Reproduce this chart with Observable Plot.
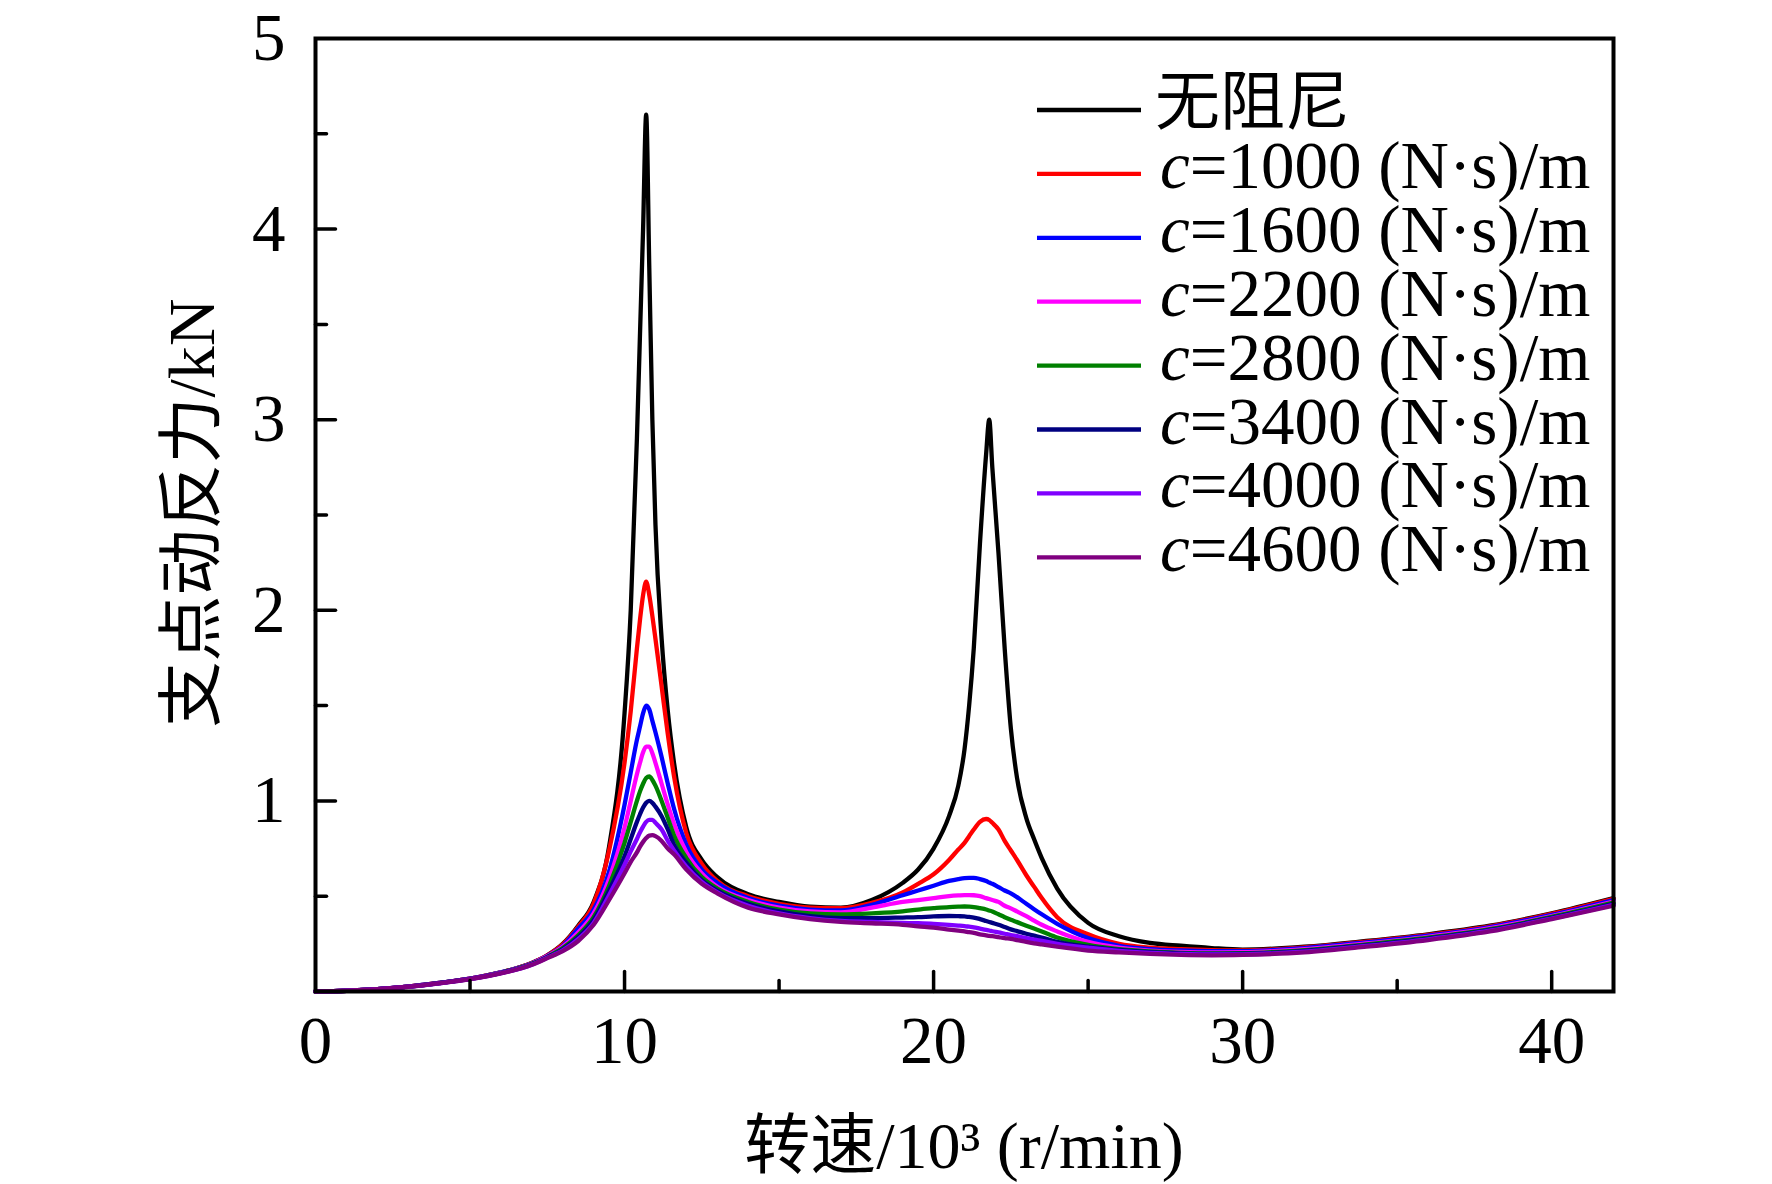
<!DOCTYPE html>
<html><head><meta charset="utf-8">
<script src="https://cdn.jsdelivr.net/npm/d3@7"></script>
<script src="https://cdn.jsdelivr.net/npm/@observablehq/plot@0.6"></script>
<style>body{margin:0;background:#fff}</style>
</head><body><div id="chart"></div>
<script>
// rotational speed, 10^3 r/min
const speed = [0,1,2,3,4,5,6,7,7.5,8, 8.5,9,9.5,10,10.2,10.4,10.5,10.6,10.7,10.8, 10.9,11,11.2,11.4,11.6,12,12.5,13,14,15, 16,17,18,19,19.5,20,20.5,20.8,21,21.15, 21.3,21.5,21.7,21.8,21.9,22.1,22.3,22.5,22.7,23, 23.25,23.5,24,25,26,27,28,29,30,32, 34,36,38,40,42];
// support dynamic reaction force, kN
const undamped = [0,.004,.012,.026,.045,.068,.10,.15,.19,.25, .345,.47,.76,1.46,2.0,2.9,3.45,4.0,4.6,3.8, 3.0,2.45,1.85,1.47,1.2,.86,.69,.60,.51,.47, .445,.44,.48,.57,.64,.75,.92,1.08,1.27,1.5, 1.8,2.35,2.82,3.0,2.75,2.3,1.8,1.38,1.12,.91, .8,.70,.54,.36,.29,.255,.24,.228,.22,.235, .265,.30,.345,.41,.49];
const c1000 = [0,.004,.012,.026,.045,.068,.10,.15,.19,.248, .34,.46,.74,1.2,1.47,1.8,1.95,2.08,2.15,2.08, 1.97,1.85,1.6,1.35,1.13,.83,.67,.58,.50,.46, .44,.437,.465,.52,.565,.615,.69,.745,.78,.815, .85,.89,.905,.9,.885,.85,.79,.74,.69,.61, .55,.49,.39,.30,.25,.23,.222,.217,.215,.232, .262,.297,.342,.407,.486];
const c1600 = [0,.004,.012,.026,.045,.067,.10,.148,.187,.24, .33,.43,.63,.98,1.15,1.32,1.39,1.46,1.50,1.48, 1.42,1.36,1.23,1.09,.96,.77,.64,.57,.49,.45, .43,.425,.455,.505,.53,.555,.58,.59,.595,.596, .596,.59,.58,.572,.565,.548,.53,.515,.495,.46, .432,.405,.355,.28,.24,.222,.215,.212,.212,.228, .258,.293,.338,.402,.48];
const c2200 = [0,.004,.012,.026,.044,.067,.099,.147,.185,.235, .31,.41,.59,.86,1.0,1.14,1.2,1.255,1.285,1.285, 1.25,1.2,1.09,.98,.88,.73,.62,.55,.48,.44, .42,.415,.44,.47,.48,.49,.50,.504,.506,.506, .505,.50,.49,.485,.48,.47,.45,.436,.42,.395, .372,.35,.315,.26,.23,.215,.208,.205,.206,.222, .252,.287,.332,.396,.472];
const c2800 = [0,.004,.012,.025,.044,.066,.098,.145,.182,.228, .295,.39,.555,.78,.89,1.0,1.05,1.09,1.12,1.128, 1.11,1.08,1.0,.91,.82,.70,.60,.54,.47,.43, .41,.405,.41,.42,.43,.437,.443,.445,.446,.445, .443,.437,.43,.425,.42,.405,.39,.376,.364,.345, .33,.315,.283,.245,.222,.21,.203,.20,.201,.217, .247,.282,.327,.391,.466];
const c3400 = [0,.004,.012,.025,.044,.066,.097,.143,.18,.222, .285,.375,.53,.71,.80,.89,.93,.965,.99,1.0, .99,.97,.92,.85,.77,.675,.585,.53,.46,.42, .395,.385,.385,.388,.39,.394,.396,.395,.394,.391, .388,.38,.37,.365,.36,.35,.338,.326,.317,.303, .293,.283,.26,.235,.218,.206,.20,.197,.198,.213, .243,.278,.323,.387,.46];
const c4000 = [0,.004,.012,.025,.043,.065,.096,.141,.177,.216, .275,.36,.505,.665,.735,.80,.835,.865,.89,.90, .90,.885,.85,.79,.74,.655,.575,.52,.45,.41, .385,.37,.365,.36,.358,.355,.35,.346,.343,.34, .337,.33,.323,.32,.316,.31,.303,.296,.29,.28, .272,.265,.25,.23,.213,.203,.197,.194,.195,.209, .239,.274,.319,.383,.455];
const c4600 = [0,.004,.012,.025,.043,.065,.095,.14,.175,.212, .265,.35,.48,.62,.68,.73,.76,.785,.805,.818, .82,.815,.79,.75,.72,.64,.565,.515,.44,.405, .38,.365,.358,.35,.342,.335,.325,.319,.315,.311, .308,.30,.295,.292,.29,.285,.28,.276,.27,.26, .253,.247,.235,.215,.205,.197,.192,.19,.192,.205, .235,.27,.315,.38,.45];

const dampingValues = [null,1000,1600,2200,2800,3400,4000,4600];
const dampingUnit = " (N·s)/m";
const seriesNames = ["无阻尼","c=1000","c=1600","c=2200","c=2800","c=3400","c=4000","c=4600"];
const seriesColors = ["#000000","#ff0000","#0000ff","#ff00ff","#008000","#000080","#8000ff","#800080"];
const seriesValues = [undamped,c1000,c1600,c2200,c2800,c3400,c4000,c4600];

const xTickLabels = [0,10,20,30,40];
const xMajor = [10,20,30,40];
const xMinor = [5,15,25,35];
const yTickLabels = [1,2,3,4,5];
const yMajor = [1,2,3,4];
const yMinor = [0.5,1.5,2.5,3.5,4.5];
const xTitle = "转速/10³ (r/min)";
const yTitle = "支点动反力/kN";

const rows = seriesValues.flatMap((vals, i) => speed.map((s, j) => ({speed: s, force: vals[j], series: seriesNames[i]})));

const FONT = "'Liberation Serif','Times New Roman','Noto Sans CJK SC',serif";
const tickShape = {draw(context, l) { context.moveTo(0, 0); context.lineTo(0, -l); }};
const tickOpts = (len) => ({length: len, anchor: "start", shape: tickShape, stroke: "black", strokeWidth: 3.5});

const plot = Plot.plot({
  width: 1772, height: 1184,
  marginLeft: 315, marginRight: 159, marginTop: 38, marginBottom: 193,
  x: {domain: [0, 42]},
  y: {domain: [0, 5]},
  color: {domain: seriesNames, range: seriesColors},
  style: {fontFamily: FONT, fontSize: "66px", background: "#fff", color: "#000"},
  marks: [
    Plot.line(rows, {x: "speed", y: "force", z: "series", stroke: "series", strokeWidth: 4.3, curve: "monotone-x"}),
    Plot.frame({stroke: "black", strokeWidth: 4}),
    Plot.vector(yMajor, {y: d => d, frameAnchor: "left", rotate: 90, ...tickOpts(20)}),
    Plot.vector(yMinor, {y: d => d, frameAnchor: "left", rotate: 90, ...tickOpts(11)}),
    Plot.vector(xMajor, {x: d => d, frameAnchor: "bottom", rotate: 0, ...tickOpts(20)}),
    Plot.vector(xMinor, {x: d => d, frameAnchor: "bottom", rotate: 0, ...tickOpts(11)}),
    Plot.axisX(xTickLabels, {tickSize: 0, tickPadding: 24, label: null, fontSize: 67, tickFormat: d => String(d)}),
    Plot.axisY(yTickLabels, {tickSize: 0, tickPadding: 30, label: null, fontSize: 67, tickFormat: d => String(d)})
  ]
});

const svg = d3.select(plot);
// axis titles
svg.append("text").attr("x", 964).attr("y", 1168).attr("text-anchor", "middle")
  .attr("font-size", 66).attr("fill", "#000").text(xTitle);
svg.append("text").attr("transform", "translate(214,513) rotate(-90)").attr("text-anchor", "middle")
  .attr("font-size", 66).attr("fill", "#000").text(yTitle);
// legend
const lg = svg.append("g").attr("text-anchor", "start");
seriesNames.forEach((name, i) => {
  const y = 110 + i * 63.9;
  lg.append("line").attr("x1", 1037).attr("x2", 1141).attr("y1", y).attr("y2", y)
    .attr("stroke", seriesColors[i]).attr("stroke-width", 4.3);
  const t = lg.append("text").attr("x", i === 0 ? 1155 : 1160).attr("y", y + 14)
    .attr("text-anchor", "start")
    .attr("font-size", i === 0 ? 65 : 67).attr("fill", "#000");
  if (dampingValues[i] == null) {
    t.text(name);
  } else {
    t.append("tspan").attr("font-style", "italic").text("c");
    t.append("tspan").text("=" + dampingValues[i] + dampingUnit);
  }
});
document.getElementById("chart").appendChild(plot);
</script>
</body></html>
